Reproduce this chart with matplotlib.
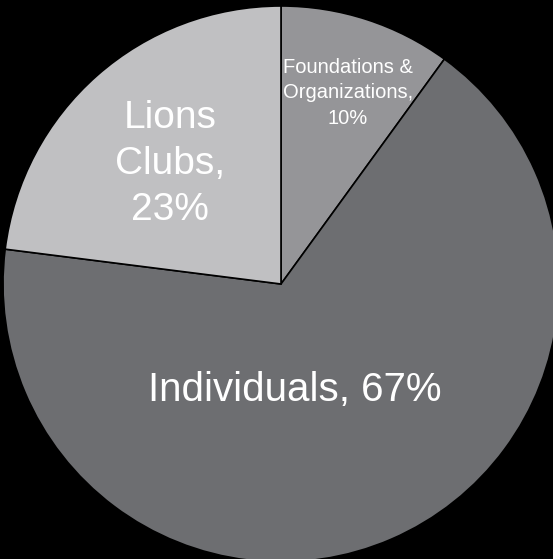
import matplotlib
matplotlib.use("Agg")
import matplotlib.pyplot as plt

labels = ["Foundations &\nOrganizations,\n10%", "Individuals, 67%", "Lions\nClubs,\n23%"]
values = [10, 67, 23]
colors = ["#959598", "#6d6e71", "#c0c0c2"]
font_sizes = [14.5, 29, 28]
line_spacings = [1.45, 1.2, 1.34]

W, H = 553, 559
cx, cy, R = 281, 284, 278

fig = plt.figure(figsize=(W / 100, H / 100), dpi=100, facecolor="black")
ax = fig.add_axes([0, 0, 1, 1])
ax.set_facecolor("black")
wedges, _ = ax.pie(values, colors=colors, startangle=90, counterclock=False,
                   radius=1, center=(0, 0),
                   wedgeprops=dict(edgecolor="black", linewidth=1.2))
ax.set_xlim(-cx / R, (W - cx) / R)
ax.set_ylim(-(H - cy) / R, cy / R)
ax.set_aspect("auto")
ax.axis("off")

# label positions in pixel coords (from top-left)
label_pos = [(348, 93), (295, 390), (170, 164)]
for lab, (px, py), fs, ls in zip(labels, label_pos, font_sizes, line_spacings):
    ax.text((px - cx) / R, (cy - py) / R, lab, ha="center", va="center",
            color="white", fontsize=fs, family="Liberation Sans",
            linespacing=ls)

fig.savefig("out.png", dpi=100, facecolor="black")
